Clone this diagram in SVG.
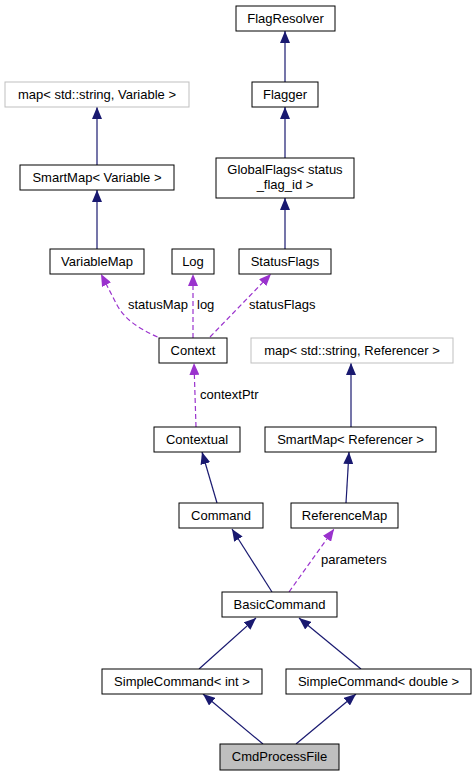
<svg xmlns="http://www.w3.org/2000/svg" width="476" height="776" viewBox="0 0 476 776">
<style>
.n rect{fill:#fff;stroke:#000;stroke-width:1}
.g rect{fill:#fff;stroke:#bfbfbf;stroke-width:1}
.h rect{fill:#bfbfbf;stroke:#000;stroke-width:1}
text{font-family:"Liberation Sans",Arial,sans-serif;font-size:13px;fill:#000}
.c{text-anchor:middle}
.e{fill:none;stroke:#191970;stroke-width:1.2;marker-end:url(#an)}
.d{fill:none;stroke:#9a32cd;stroke-width:1.2;stroke-dasharray:5,3;marker-end:url(#ap)}
</style>
<defs>
<marker id="an" viewBox="0 0 12 10" refX="12" refY="5" markerWidth="12" markerHeight="10" markerUnits="userSpaceOnUse" orient="auto"><path d="M12,5 L0,0 L0,10 z" fill="#191970"/></marker>
<marker id="ap" viewBox="0 0 12 10" refX="12" refY="5" markerWidth="12" markerHeight="10" markerUnits="userSpaceOnUse" orient="auto"><path d="M12,5 L0,0 L0,10 z" fill="#9a32cd"/></marker>
</defs>
<rect width="476" height="776" fill="#fff"/>
<g id="edges">
<path class="e" d="M285,82 L285,31"/>
<path class="e" d="M285,158 L285,107"/>
<path class="e" d="M97,165 L97,107"/>
<path class="e" d="M97,249 L97,190"/>
<path class="e" d="M285,249 L285,198"/>
<path class="d" d="M157.5,337 C140,329 125,320 117,305 L101,274"/>
<path class="d" d="M193,338 L193,274"/>
<path class="d" d="M210,337 L271,274"/>
<path class="d" d="M196,427 L194,363"/>
<path class="e" d="M351,427 L351,363"/>
<path class="e" d="M346,503 L349,452"/>
<path class="e" d="M217,503 L202,452"/>
<path class="e" d="M272,592 L232,529"/>
<path class="d" d="M289,592 L334,529"/>
<path class="e" d="M199,669 L256,618"/>
<path class="e" d="M361,669 L299,618"/>
<path class="e" d="M263,744 L203,694"/>
<path class="e" d="M296,744 L356,694"/>
<text x="128" y="309">statusMap</text>
<text x="197" y="309">log</text>
<text x="249" y="309">statusFlags</text>
<text x="200" y="399">contextPtr</text>
<text x="321" y="564">parameters</text>
</g>
<g id="FlagResolver" class="n"><rect x="236" y="6" width="99" height="25"/><text class="c" x="285.5" y="23">FlagResolver</text></g>
<g id="Flagger" class="n"><rect x="252" y="82" width="66" height="25"/><text class="c" x="285" y="99">Flagger</text></g>
<g id="mapVariable" class="g"><rect x="5" y="82" width="184" height="25"/><text class="c" x="97" y="99">map&lt; std::string, Variable &gt;</text></g>
<g id="SmartMapVariable" class="n"><rect x="20" y="165" width="154" height="25"/><text class="c" x="97" y="182">SmartMap&lt; Variable &gt;</text></g>
<g id="GlobalFlags" class="n"><rect x="216" y="158" width="138" height="40"/><text class="c" x="285" y="174">GlobalFlags&lt; status</text><text class="c" x="285" y="189">_flag_id &gt;</text></g>
<g id="VariableMap" class="n"><rect x="50" y="249" width="94" height="25"/><text class="c" x="97" y="266">VariableMap</text></g>
<g id="Log" class="n"><rect x="172" y="249" width="42" height="25"/><text class="c" x="193" y="266">Log</text></g>
<g id="StatusFlags" class="n"><rect x="239" y="249" width="92" height="25"/><text class="c" x="285" y="266">StatusFlags</text></g>
<g id="Context" class="n"><rect x="159" y="338" width="68" height="25"/><text class="c" x="193" y="355">Context</text></g>
<g id="mapReferencer" class="g"><rect x="251" y="338" width="202" height="25"/><text class="c" x="352" y="355">map&lt; std::string, Referencer &gt;</text></g>
<g id="Contextual" class="n"><rect x="154" y="427" width="86" height="25"/><text class="c" x="197" y="444">Contextual</text></g>
<g id="SmartMapReferencer" class="n"><rect x="265" y="427" width="171" height="25"/><text class="c" x="350.5" y="444">SmartMap&lt; Referencer &gt;</text></g>
<g id="Command" class="n"><rect x="179" y="503" width="84" height="25"/><text class="c" x="221" y="520">Command</text></g>
<g id="ReferenceMap" class="n"><rect x="291" y="503" width="107" height="25"/><text class="c" x="344.5" y="520">ReferenceMap</text></g>
<g id="BasicCommand" class="n"><rect x="222" y="592" width="115" height="25"/><text class="c" x="279.5" y="609">BasicCommand</text></g>
<g id="SimpleCommandInt" class="n"><rect x="102" y="669" width="160" height="25"/><text class="c" x="182" y="686">SimpleCommand&lt; int &gt;</text></g>
<g id="SimpleCommandDouble" class="n"><rect x="286" y="669" width="185" height="25"/><text class="c" x="378.5" y="686">SimpleCommand&lt; double &gt;</text></g>
<g id="CmdProcessFile" class="h"><rect x="220" y="744" width="119" height="26"/><text class="c" x="279.5" y="761">CmdProcessFile</text></g>
</svg>
